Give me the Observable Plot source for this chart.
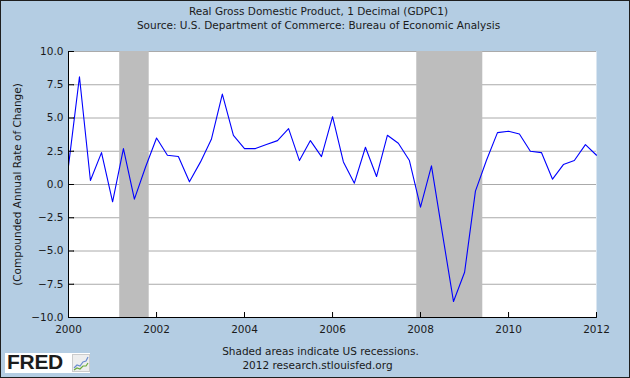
<!DOCTYPE html>
<html>
<head>
<meta charset="utf-8">
<script src="https://cdn.jsdelivr.net/npm/d3@7"></script>
<script src="https://cdn.jsdelivr.net/npm/@observablehq/plot@0.6"></script>
<style>
  html, body { margin: 0; padding: 0; background: #fff; }
  #chart { position: relative; width: 630px; height: 378px; background: #b4cde3; overflow: hidden; }
  #chart svg { position: absolute; left: 0; top: 0; }
  #border { position: absolute; left: 0; top: 0; width: 630px; height: 378px; box-sizing: border-box; border: 1px solid #1e1e1e; pointer-events: none; }
  #logo { position: absolute; left: 5px; top: 353px; width: 85px; height: 20px; background: #fff; }
  #logo span { position: absolute; left: 2px; top: -3px; font: bold 21px "Liberation Sans", Arial, sans-serif; color: #1c1c1c; letter-spacing: -0.3px; }
  #logo svg { position: absolute; left: 67px; top: 1px; }
</style>
</head>
<body>
<div id="chart"><div id="border"></div></div>
<script>
const title = "Real Gross Domestic Product, 1 Decimal (GDPC1)";
const subtitle = "Source: U.S. Department of Commerce: Bureau of Economic Analysis";
const yLabel = "(Compounded Annual Rate of Change)";
const note1 = "Shaded areas indicate US recessions.";
const note2 = "2012 research.stlouisfed.org";

const quarters = [
  "2000-01-01","2000-04-01","2000-07-01","2000-10-01",
  "2001-01-01","2001-04-01","2001-07-01","2001-10-01",
  "2002-01-01","2002-04-01","2002-07-01","2002-10-01",
  "2003-01-01","2003-04-01","2003-07-01","2003-10-01",
  "2004-01-01","2004-04-01","2004-07-01","2004-10-01",
  "2005-01-01","2005-04-01","2005-07-01","2005-10-01",
  "2006-01-01","2006-04-01","2006-07-01","2006-10-01",
  "2007-01-01","2007-04-01","2007-07-01","2007-10-01",
  "2008-01-01","2008-04-01","2008-07-01","2008-10-01",
  "2009-01-01","2009-04-01","2009-07-01","2009-10-01",
  "2010-01-01","2010-04-01","2010-07-01","2010-10-01",
  "2011-01-01","2011-04-01","2011-07-01","2011-10-01",
  "2012-01-01"
];
const gdpChange = [
  1.4, 8.1, 0.3, 2.4,
  -1.3, 2.7, -1.1, 1.3,
  3.5, 2.2, 2.1, 0.2,
  1.7, 3.4, 6.8, 3.7,
  2.7, 2.7, 3.0, 3.3,
  4.2, 1.8, 3.3, 2.1,
  5.1, 1.7, 0.1, 2.8,
  0.6, 3.7, 3.1, 1.8,
  -1.7, 1.4, -3.7, -8.8,
  -6.6, -0.5, 1.8, 3.9,
  4.0, 3.8, 2.5, 2.4,
  0.4, 1.5, 1.8, 3.0,
  2.2
];
const recessionStart = ["2001-03-01", "2007-12-01"];
const recessionEnd = ["2001-11-01", "2009-06-01"];
const yTicks = [-10, -7.5, -5, -2.5, 0, 2.5, 5, 7.5, 10];
const xTickYears = ["2000", "2002", "2004", "2006", "2008", "2010", "2012"];
const xDomain = ["2000-01-01", "2012-01-01"];

const parse = d3.utcParse("%Y-%m-%d");
const data = quarters.map((q, i) => ({date: parse(q), value: gdpChange[i]}));
const recessions = recessionStart.map((s, i) => ({start: parse(s), end: parse(recessionEnd[i])}));
const xTicks = xTickYears.map(y => d3.utcParse("%Y")(y));
const x0 = parse(xDomain[0]);

const ink = "#1a1a1a";

const plot = Plot.plot({
  width: 630,
  height: 378,
  marginLeft: 68,
  marginRight: 34,
  marginTop: 51,
  marginBottom: 61,
  style: {background: "transparent", fontFamily: "'DejaVu Sans', Verdana, sans-serif", fontSize: "10px", color: ink},
  x: {type: "utc", domain: xDomain.map(parse)},
  y: {domain: [-10, 10]},
  marks: [
    Plot.frame({fill: "white", stroke: null}),
    Plot.ruleY(yTicks, {stroke: "#aaaaaa", strokeWidth: 1}),
    Plot.rectX(recessions, {x1: "start", x2: "end", y1: -10, y2: 10, fill: "#bdbdbd"}),
    Plot.line(data, {x: "date", y: "value", stroke: "#0000ff", strokeWidth: 1.1}),
    Plot.ruleX([x0], {stroke: "black", y1: -10, y2: 10}),
    Plot.ruleY([-10], {stroke: "black"}),
    Plot.vector(yTicks, {x: () => x0, y: d => d, length: 5, rotate: 90, anchor: "start", r: 0, stroke: "black", strokeWidth: 1}),
    Plot.vector(xTicks, {x: d => d, y: () => -10, length: 5, rotate: 0, anchor: "start", r: 0, stroke: "black", strokeWidth: 1}),
    Plot.axisY({ticks: yTicks, tickSize: 0, tickPadding: 5, tickFormat: d3.format(".1f"), label: null, fill: ink, fontSize: 10.5}),
    Plot.axisX({ticks: xTicks, tickSize: 0, tickPadding: 8, tickFormat: d3.utcFormat("%Y"), label: null, fill: ink, fontSize: 10.5}),
    Plot.text([yLabel], {frameAnchor: "left", textAnchor: "middle", rotate: -90, dx: -51, fill: ink, fontSize: 10.5}),
    Plot.text([title], {frameAnchor: "top", dx: -14, dy: -39.5, fill: ink, fontSize: 10.5, lineAnchor: "middle"}),
    Plot.text([subtitle], {frameAnchor: "top", dx: -14, dy: -26, fill: ink, fontSize: 10.5, lineAnchor: "middle"}),
    Plot.text([note1], {frameAnchor: "bottom", dx: -12, dy: 34, fill: ink, fontSize: 10.5, lineAnchor: "middle"}),
    Plot.text([note2], {frameAnchor: "bottom", dx: -15, dy: 48, fill: ink, fontSize: 10.5, lineAnchor: "middle"})
  ]
});
const chart = document.getElementById("chart");
chart.insertBefore(plot, chart.firstChild);

const logo = document.createElement("div");
logo.id = "logo";
logo.innerHTML = '<span>FRED</span>' +
  '<svg width="18" height="18" viewBox="0 0 18 18"><rect x="0.5" y="0.5" width="17" height="17" fill="#eeeeee" stroke="#cccccc"/>' +
  '<polyline points="2,14 5,11 8,12 11,8 14,7 16,3" fill="none" stroke="#6a8ccf" stroke-width="1.2"/>' +
  '<polyline points="2,16 5,14 8,15 11,12 14,12 16,9" fill="none" stroke="#6aaa3a" stroke-width="1.2"/></svg>';
chart.appendChild(logo);
</script>
</body>
</html>
